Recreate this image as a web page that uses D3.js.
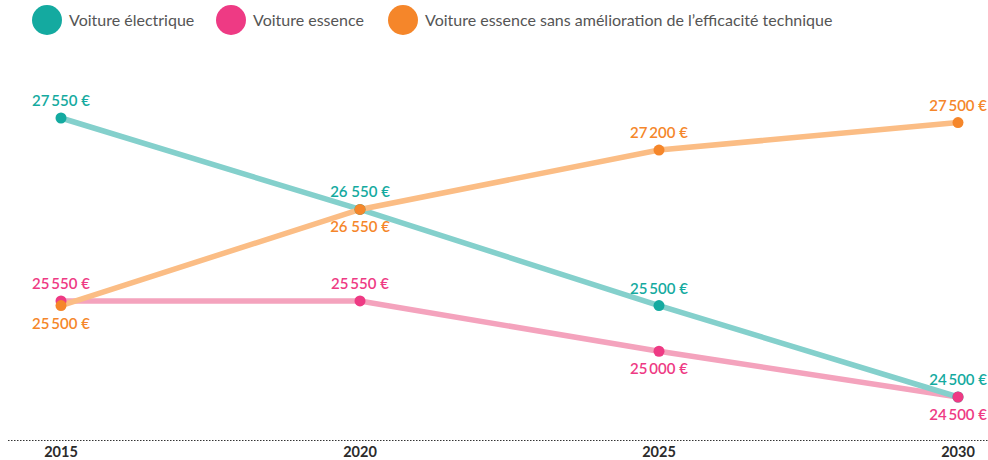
<!DOCTYPE html>
<html>
<head>
<meta charset="utf-8">
<script src="https://cdn.jsdelivr.net/npm/d3@7"></script>
<style>
  body { margin: 0; background: #fff; }
  svg { display: block; font-family: Lato, "Open Sans", sans-serif; }
</style>
</head>
<body>
<svg id="chart" width="988" height="460"></svg>
<script>
// data
const years = [2015, 2020, 2025, 2030];
const electrique = [27550, 26550, 25500, 24500];
const essence = [25550, 25550, 25000, 24500];
const sansAmelioration = [25500, 26550, 27200, 27500];

const seriesNames = [
  "Voiture électrique",
  "Voiture essence",
  "Voiture essence sans amélioration de l’efficacité technique",
];

// label side for each point (above / below)
const labelSide = {
  electrique: ["up", "up", "up", "up"],
  essence: ["up", "up", "down", "down"],
  sansAmelioration: ["down", "down", "up", "up"],
};

const svg = d3.select("#chart");
const width = +svg.attr("width");

const x = d3.scalePoint().domain(years).range([61, 958]);
const y = d3.scaleLinear().domain([24500, 27550]).range([397, 118]);

const series = [
  { key: "essence", values: essence, dot: "#ee3a84", line: "#f4a3bd", name: seriesNames[1] },
  { key: "electrique", values: electrique, dot: "#14aaa0", line: "#84d0cc", name: seriesNames[0] },
  { key: "sansAmelioration", values: sansAmelioration, dot: "#f5862a", line: "#fbbd85", name: seriesNames[2] },
];

// format "27 550 €" with a thin space (the 26 550 labels use a full space)
const fmt = (v, key) => {
  const s = d3.format(",")(v);
  const sep = (key !== "essence" && v === 26550) ? " " : "\u2009";
  return s.replace(",", sep) + " €";
};

// legend
const legendItems = [
  { name: seriesNames[0], color: "#14aaa0", cx: 47 },
  { name: seriesNames[1], color: "#ee3a84", cx: 231 },
  { name: seriesNames[2], color: "#f5862a", cx: 403 },
];
const legend = svg.append("g");
legend.selectAll("circle")
  .data(legendItems)
  .join("circle")
  .attr("cx", (d) => d.cx)
  .attr("cy", 20)
  .attr("r", 15)
  .attr("fill", (d) => d.color);
legend.selectAll("text")
  .data(legendItems)
  .join("text")
  .attr("x", (d) => d.cx + 22)
  .attr("y", 26)
  .attr("font-size", 16)
  .attr("fill", "#555")
  .text((d) => d.name);

// axis
svg.append("line")
  .attr("x1", 8)
  .attr("x2", width)
  .attr("y1", 440.5)
  .attr("y2", 440.5)
  .attr("stroke", "#333")
  .attr("stroke-width", 1)
  .attr("stroke-dasharray", "1.5,1.5");

svg.selectAll(".year")
  .data(years)
  .join("text")
  .attr("class", "year")
  .attr("x", (d) => x(d))
  .attr("y", 457)
  .attr("text-anchor", "middle")
  .attr("font-size", 14.5)
  .attr("font-weight", "bold")
  .attr("fill", "#2b2b2b")
  .text((d) => d);

// lines
const line = d3.line()
  .x((d, i) => x(years[i]))
  .y((d) => y(d));

series.forEach((s) => {
  svg.append("path")
    .datum(s.values)
    .attr("d", line)
    .attr("fill", "none")
    .attr("stroke", s.line)
    .attr("stroke-width", 5.5)
    .attr("stroke-linecap", "round");
});

// dots: teal first, then pink, then orange on top
[series[1], series[0], series[2]].forEach((s) => {
  svg.append("g")
    .selectAll("circle")
    .data(s.values)
    .join("circle")
    .attr("cx", (d, i) => x(years[i]))
    .attr("cy", (d) => y(d))
    .attr("r", 5.5)
    .attr("fill", s.dot);
});

// value labels
series.forEach((s) => {
  svg.append("g")
    .selectAll("text")
    .data(s.values)
    .join("text")
    .attr("x", (d, i) => (i === years.length - 1 ? 987 : x(years[i])))
    .attr("y", (d, i) => y(d) + (labelSide[s.key][i] === "up" ? -12 : 23))
    .attr("text-anchor", (d, i) => (i === years.length - 1 ? "end" : "middle"))
    .attr("font-size", 15)
    .attr("font-weight", 600)
    .attr("fill", s.dot)
    .text((d) => fmt(d, s.key));
});
</script>
</body>
</html>
